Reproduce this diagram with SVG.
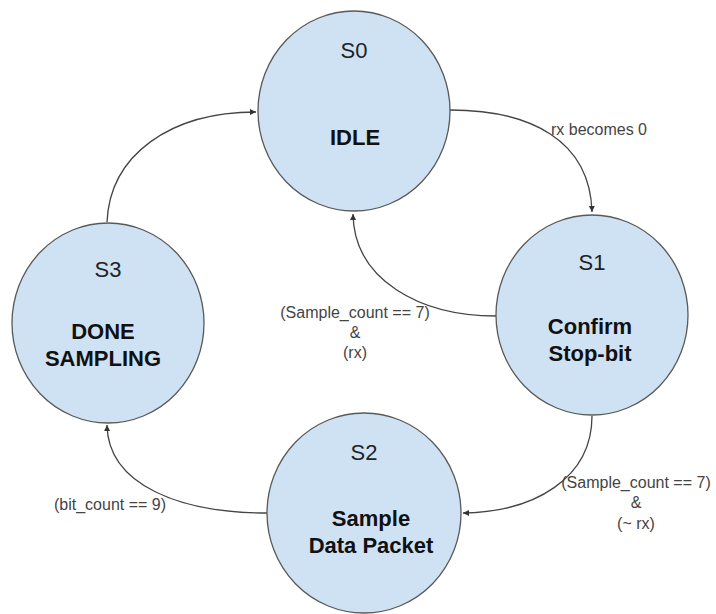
<svg xmlns="http://www.w3.org/2000/svg" width="716" height="614" viewBox="0 0 716 614">
  <defs>
    <marker id="arr" markerWidth="8" markerHeight="8" refX="6" refY="3" orient="auto" markerUnits="userSpaceOnUse">
      <path d="M0,0 L6,3 L0,6 Z" fill="#333"/>
    </marker>
    <style>
      .node ellipse { fill: #cfe2f3; stroke: #595959; stroke-width: 1.3; }
      .id { font-family: "Liberation Sans", Arial, sans-serif; font-size: 22px; fill: #222; text-anchor: middle; }
      .name { font-family: "Liberation Sans", Arial, sans-serif; font-size: 22px; font-weight: bold; fill: #111; text-anchor: middle; }
      .edge { fill: none; stroke: #444; stroke-width: 1.3; marker-end: url(#arr); }
      .lbl { font-family: "Liberation Sans", Arial, sans-serif; font-size: 16px; fill: #444; text-anchor: middle; }
    </style>
  </defs>
  <rect width="716" height="614" fill="#fff"/>

  <g id="connectors">
    <path class="edge" d="M450 110 C530 110 590 140 592 212"/>
    <path class="edge" d="M496 316 C420 316 354 280 353 214"/>
    <path class="edge" d="M592 416 C592 478 535 512 463 513"/>
    <path class="edge" d="M267 513 C180 513 108 485 107 425"/>
    <path class="edge" d="M107 222 C110 155 170 112 256 112"/>
  </g>

  <g id="S0" class="node">
    <ellipse cx="354" cy="111" rx="96" ry="100"/>
    <text class="id" x="354" y="58">S0</text>
    <text class="name" x="355" y="145">IDLE</text>
  </g>
  <g id="S1" class="node">
    <ellipse cx="592" cy="315" rx="96" ry="100"/>
    <text class="id" x="592" y="270">S1</text>
    <text class="name" x="590" y="334">Confirm</text>
    <text class="name" x="590" y="361">Stop-bit</text>
  </g>
  <g id="S2" class="node">
    <ellipse cx="364" cy="513" rx="97" ry="100"/>
    <text class="id" x="364" y="460">S2</text>
    <text class="name" x="371" y="526">Sample</text>
    <text class="name" x="371" y="553">Data Packet</text>
  </g>
  <g id="S3" class="node">
    <ellipse cx="108" cy="323" rx="96" ry="100"/>
    <text class="id" x="108" y="277">S3</text>
    <text class="name" x="103" y="339">DONE</text>
    <text class="name" x="103" y="366">SAMPLING</text>
  </g>

  <g id="labels">
    <text class="lbl" x="599" y="135">rx becomes 0</text>
    <text class="lbl" x="355" y="318">(Sample_count == 7)</text>
    <text class="lbl" x="355" y="338">&amp;</text>
    <text class="lbl" x="355" y="358">(rx)</text>
    <text class="lbl" x="636" y="488">(Sample_count == 7)</text>
    <text class="lbl" x="636" y="508">&amp;</text>
    <text class="lbl" x="636" y="529">(~ rx)</text>
    <text class="lbl" x="110" y="510">(bit_count == 9)</text>
  </g>
</svg>
